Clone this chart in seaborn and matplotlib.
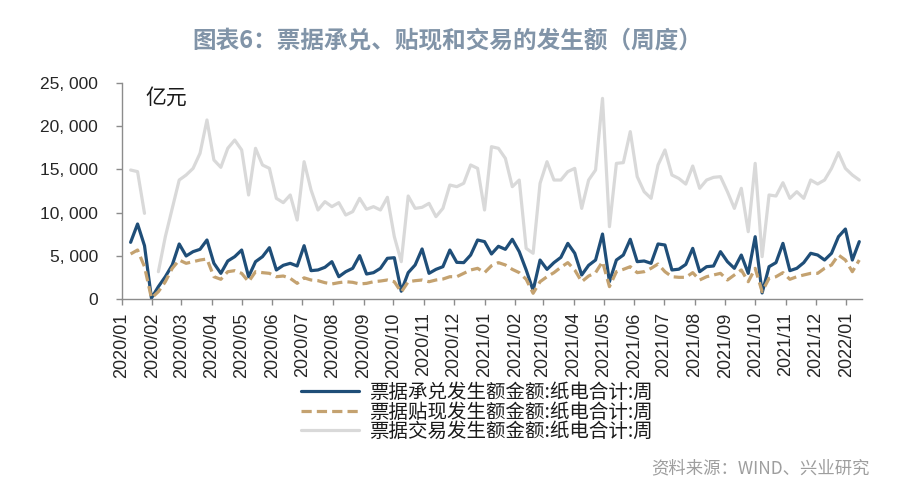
import numpy as np
import pandas as pd
import matplotlib
matplotlib.use("Agg")
import matplotlib.pyplot as plt
import matplotlib.dates as mdates
from matplotlib.lines import Line2D
from matplotlib.ticker import FuncFormatter, MultipleLocator
import seaborn as sns

# ---------------- data (weekly, 亿元) ----------------
start_date = "2020-01-10"
n_weeks = 106

acceptance = [
    6560, 8680, 6170, 100, 1430, 2580, 3940, 6370, 4980, 5480,
    5750, 6830, 4130, 2970, 4400, 4900, 5670, 2580, 4320, 4900,
    5940, 3360, 3900, 4130, 3820, 6170, 3280, 3360, 3670, 4320,
    2580, 3160, 3550, 5020, 2890, 3050, 3550, 4710, 4780, 900,
    3050, 3940, 5790, 2970, 3430, 3740, 5670, 4240, 4210, 5090,
    6830, 6640, 5210, 6100, 5750, 6910, 5480, 3360, 1000, 4510,
    3430, 4210, 4820, 6440, 5290, 2780, 3900, 4510, 7520, 2010,
    4510, 5090, 6910, 4320, 4400, 4130, 6370, 6250, 3360, 3450,
    4000, 5860, 3160, 3740, 3820, 5480, 4320, 3550, 5090, 2970,
    7210, 700, 3740, 4210, 6440, 3280, 3550, 4210, 5290, 5090,
    4510, 5290, 7210, 8100, 4510, 6640,
]

discount = [
    5210, 5670, 3740, 100, 850, 2000, 3550, 4510, 4130, 4320,
    4510, 4630, 2580, 2280, 3160, 3280, 2970, 2000, 3160, 3050,
    2970, 2580, 2660, 2390, 1810, 2450, 2200, 2120, 1890, 1740,
    1890, 2000, 1930, 1740, 1810, 2000, 2080, 2200, 2000, 800,
    2000, 2120, 2200, 2000, 2200, 2310, 2580, 2580, 2970, 3360,
    3550, 3050, 3850, 4210, 3940, 3430, 3050, 2280, 660, 2000,
    2580, 3050, 3670, 4210, 3360, 2000, 2660, 3050, 4320, 1430,
    3160, 3430, 3740, 3050, 3160, 3550, 4050, 3160, 2580, 2510,
    2510, 3050, 2200, 2580, 2780, 2970, 2200, 2780, 3360, 2000,
    3550, 850, 2390, 2580, 3050, 2280, 2580, 2780, 2970, 2970,
    3550, 3940, 5090, 4510, 3160, 4510,
]

trading = [
    14930, 14740, 9915, np.nan, 3160, 7210, 10490, 13770, 14350, 15120,
    16860, 20720, 16090, 15240, 17440, 18400, 17250, 12040, 17440, 15510,
    15120, 11650, 11150, 12040, 9140, 15890, 12620, 10300, 11270, 10690,
    11150, 9720, 10110, 11650, 10380, 10690, 10300, 11770, 7210, 4320,
    11920, 10490, 10610, 11070, 9530, 10490, 13190, 13000, 13390, 15510,
    15120, 10300, 17630, 17440, 16280, 13000, 13770, 5860, 5290, 13390,
    15890, 13770, 13770, 14740, 15120, 10490, 13770, 14930, 23220, 8370,
    15700, 15780, 19370, 14160, 12420, 11650, 15510, 17250, 14350, 13950,
    13300, 15390, 12810, 13770, 14080, 14160, 12420, 10490, 12810, 7790,
    15700, 4900, 12040, 11920, 13460, 11650, 12420, 11650, 13770, 13310,
    13770, 15120, 16940, 15120, 14350, 13770,
]

labels = [
    "票据承兑发生额金额:纸电合计:周",
    "票据贴现发生额金额:纸电合计:周",
    "票据交易发生额金额:纸电合计:周",
]
title = "图表6：票据承兑、贴现和交易的发生额（周度）"
unit_label = "亿元"
source = "资料来源：WIND、兴业研究"

c_blue = "#1F4E78"
c_tan = "#C4A270"
c_gray = "#D9D9D9"

dates = pd.date_range(start_date, periods=n_weeks, freq="7D")
df = pd.DataFrame({"date": dates, "acc": acceptance, "disc": discount, "trade": trading})
df["seg"] = df["trade"].isna().cumsum()

# ---------------- figure ----------------
sns.set_theme(style="ticks")
plt.rcParams["font.family"] = ["Liberation Sans", "Noto Sans CJK SC", "DejaVu Sans"]
cjk = ["Noto Sans CJK SC", "DejaVu Sans"]

fig = plt.figure(figsize=(9.02, 4.95), dpi=100)
W, H = 902, 495
x0, x1, y0, y1 = 121.7, 862.0, 83.0, 299.0
ax = fig.add_axes([x0 / W, 1 - y1 / H, (x1 - x0) / W, (y1 - y0) / H])

lw = 2.3
sns.lineplot(data=df, x="date", y="acc", ax=ax, color=c_blue, lw=lw, legend=False)
sns.lineplot(data=df, x="date", y="disc", ax=ax, color=c_tan, lw=lw,
             linestyle=(0, (3.2, 1.6)), legend=False)
sns.lineplot(data=df.dropna(subset=["trade"]), x="date", y="trade", units="seg",
             estimator=None, ax=ax, color=c_gray, lw=lw, legend=False)

ax.set_ylim(0, 25000)
ax.set_xlim(pd.Timestamp("2020-01-01"), pd.Timestamp("2022-01-16 18:00"))
ax.yaxis.set_major_locator(MultipleLocator(5000))
ax.yaxis.set_major_formatter(FuncFormatter(lambda v, p: f"{int(v):,}".replace(",", ", ")))
ax.xaxis.set_major_locator(mdates.MonthLocator())
ax.xaxis.set_major_formatter(mdates.DateFormatter("%Y/%m"))
ax.set_xlabel("")
ax.set_ylabel("")

for s in ["top", "right"]:
    ax.spines[s].set_visible(False)
for s in ["left", "bottom"]:
    ax.spines[s].set_color("#8C8C8C")
    ax.spines[s].set_linewidth(1.0)

ax.tick_params(axis="y", direction="out", length=4, width=1, color="#8C8C8C",
               labelsize=12.5, labelcolor="#262626", pad=13)
ax.tick_params(axis="x", direction="out", length=4.5, width=1, color="#8C8C8C",
               labelsize=13, labelcolor="#262626", pad=5, rotation=90)

fig.text(145 / W, 1 - 98 / H, unit_label, ha="left", va="center",
         fontsize=15, color="#1a1a1a", family=cjk)

fig.text(447 / W, 1 - 40 / H, title, ha="center", va="center",
         fontsize=17, color="#8194A8", fontweight="bold", family=cjk)

fig.text(870 / W, 1 - 468 / H, source, ha="right", va="center",
         fontsize=12.5, color="#9E9E9E", family=cjk)

handles = [
    Line2D([], [], color=c_blue, lw=lw),
    Line2D([], [], color=c_tan, lw=lw, linestyle=(0, (3.2, 1.6))),
    Line2D([], [], color=c_gray, lw=lw),
]
leg = fig.legend(handles, labels, loc="center", bbox_to_anchor=(477 / W, 1 - 412 / H),
                 frameon=False, ncol=1, handlelength=3.0, handletextpad=0.5,
                 labelspacing=-0.08, borderpad=0.0,
                 prop={"family": cjk, "size": 14})
for t in leg.get_texts():
    t.set_color("#1a1a1a")

fig.savefig("out.png", dpi=100)
